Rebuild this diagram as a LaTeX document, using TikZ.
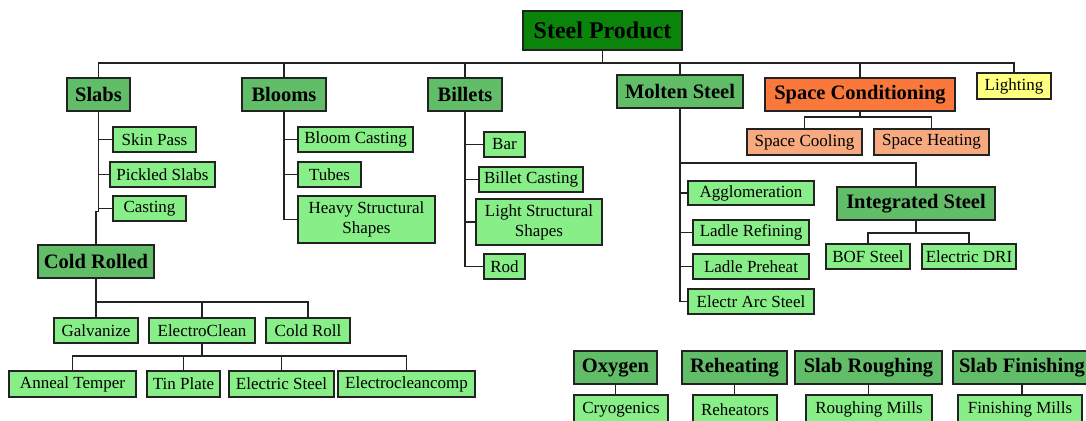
\documentclass[tikz,border=0pt]{standalone}
\usepackage{fontspec}
\setmainfont{Liberation Serif}
\definecolor{dkgreen}{RGB}{10,132,10}
\definecolor{mdgreen}{RGB}{98,189,105}
\definecolor{ltgreen}{RGB}{136,238,136}
\definecolor{orng}{RGB}{250,120,60}
\definecolor{salmon}{RGB}{247,170,128}
\definecolor{ylw}{RGB}{255,255,128}
\definecolor{ink}{RGB}{35,35,35}
\tikzset{
  box/.style={draw=ink, line width=1.4pt, inner sep=0pt, anchor=center, text=black},
  headbox/.style={box, fill=mdgreen, font=\fontsize{20.5}{22}\selectfont\bfseries},
  subbox/.style={box, fill=ltgreen, font=\fontsize{17}{20}\selectfont, align=center},
  wire/.style={draw=ink, line width=1.4pt},
}
\begin{document}
\begin{tikzpicture}[x=1pt,y=-1pt]
\useasboundingbox (0,0) rectangle (1086,420);
\clip (0,0) rectangle (1086,420);
\fill[white] (0,0) rectangle (1086,420);
% top level
\node[box, fill=dkgreen, font=\fontsize{24}{26}\selectfont\bfseries, minimum width=159pt, minimum height=39pt] (sp) at (602.5,30.5) {Steel Product};
\node[headbox, minimum width=63pt, minimum height=33pt] (slabs) at (98.5,94.5) {Slabs};
\node[headbox, minimum width=84pt, minimum height=33pt] (blooms) at (284,94.5) {Blooms};
\node[headbox, minimum width=74pt, minimum height=33pt] (billets) at (465,94.5) {Billets};
\node[headbox, minimum width=126pt, minimum height=33pt] (molten) at (680,91.5) {Molten Steel};
\node[box, fill=orng, font=\fontsize{20.5}{22}\selectfont\bfseries, minimum width=190pt, minimum height=33pt] (space) at (860,94.5) {Space Conditioning};
\node[box, fill=ylw, font=\fontsize{17}{20}\selectfont, minimum width=74pt, minimum height=26pt] (light) at (1014,86) {Lighting};
\coordinate (bus) at (0,63);
\draw[wire] (slabs.north) |- (light.north |- bus) -- (light.north);
\draw[wire] (sp.south) -- (sp.south |- bus);
\draw[wire] (blooms.north) -- (blooms.north |- bus);
\draw[wire] (billets.north) -- (billets.north |- bus);
\draw[wire] (molten.north) -- (molten.north |- bus);
\draw[wire] (space.north) -- (space.north |- bus);
% slabs children
\node[subbox, minimum width=83pt, minimum height=25pt] (skin) at (154.5,139.5) {Skin Pass};
\node[subbox, minimum width=105pt, minimum height=25pt] (pickled) at (162.5,174.5) {Pickled Slabs};
\node[subbox, minimum width=73pt, minimum height=25pt] (casting) at (149.5,208.5) {Casting};
\draw[wire] (slabs.south) |- (casting.west);
\draw[wire] (slabs.south |- skin.west) -- (skin.west);
\draw[wire] (slabs.south |- pickled.west) -- (pickled.west);
\node[headbox, minimum width=116pt, minimum height=33pt] (cold) at (96,261.5) {Cold Rolled};
\draw[wire] (slabs.south |- casting.west) -- ++(0,3) -| (cold.north);
% cold rolled children
\node[subbox, minimum width=84pt, minimum height=25pt] (galv) at (96,330.5) {Galvanize};
\node[subbox, minimum width=106pt, minimum height=25pt] (eclean) at (202,330.5) {ElectroClean};
\node[subbox, minimum width=84pt, minimum height=25pt] (croll) at (308,330.5) {Cold Roll};
\coordinate (crbus) at (0,302);
\draw[wire] (cold.south) -- (cold.south |- crbus);
\draw[wire] (galv.north) |- (croll.north |- crbus) -- (croll.north);
\draw[wire] (eclean.north) -- (eclean.north |- crbus);
\node[subbox, minimum width=127pt, minimum height=26pt] (anneal) at (72.5,384) {Anneal Temper};
\node[subbox, minimum width=73pt, minimum height=26pt] (tin) at (183.5,384) {Tin Plate};
\node[subbox, minimum width=105pt, minimum height=26pt] (esteel) at (281.5,384) {Electric Steel};
\node[subbox, minimum width=137pt, minimum height=26pt] (ecomp) at (406.5,384) {Electrocleancomp};
\coordinate (ecbus) at (0,356);
\draw[wire] (eclean.south) -- (eclean.south |- ecbus);
\draw[wire] (anneal.north) |- (ecomp.north |- ecbus) -- (ecomp.north);
\draw[wire] (tin.north) -- (tin.north |- ecbus);
\draw[wire] (esteel.north) -- (esteel.north |- ecbus);
% blooms children
\node[subbox, minimum width=115pt, minimum height=25pt] (bcast) at (355.5,139.5) {Bloom Casting};
\node[subbox, minimum width=63pt, minimum height=25pt] (tubes) at (329.5,174.5) {Tubes};
\node[subbox, minimum width=137pt, minimum height=47pt] (heavy) at (366.5,219.5) {Heavy Structural\\Shapes};
\draw[wire] (blooms.south) |- (heavy.west);
\draw[wire] (blooms.south |- bcast.west) -- (bcast.west);
\draw[wire] (blooms.south |- tubes.west) -- (tubes.west);
% billets children
\node[subbox, minimum width=41pt, minimum height=25pt] (bar) at (504.5,144.5) {Bar};
\node[subbox, minimum width=104pt, minimum height=25pt] (bilcast) at (531,179.5) {Billet Casting};
\node[subbox, minimum width=126pt, minimum height=46pt] (lights) at (539,222) {Light Structural\\Shapes};
\node[subbox, minimum width=41pt, minimum height=25pt] (rod) at (504.5,266.5) {Rod};
\draw[wire] (billets.south) |- (rod.west);
\draw[wire] (billets.south |- bar.west) -- (bar.west);
\draw[wire] (billets.south |- bilcast.west) -- (bilcast.west);
\draw[wire] (billets.south |- lights.west) -- (lights.west);
% space conditioning children
\node[box, fill=salmon, font=\fontsize{17}{20}\selectfont, minimum width=115pt, minimum height=26pt] (scool) at (804.5,142) {Space Cooling};
\node[box, fill=salmon, font=\fontsize{17}{20}\selectfont, minimum width=115pt, minimum height=26pt] (sheat) at (931.5,142) {Space Heating};
\coordinate (scbus) at (0,117);
\draw[wire] (space.south) -- (space.south |- scbus);
\draw[wire] (scool.north) |- (sheat.north |- scbus) -- (sheat.north);
% molten steel children
\node[subbox, minimum width=126pt, minimum height=24pt] (agglo) at (751,193) {Agglomeration};
\node[subbox, minimum width=116pt, minimum height=25pt] (lref) at (751,232.5) {Ladle Refining};
\node[subbox, minimum width=116pt, minimum height=25pt] (lpre) at (751,266.5) {Ladle Preheat};
\node[subbox, minimum width=126pt, minimum height=25pt] (earc) at (751,301.5) {Electr Arc Steel};
\draw[wire] (molten.south) |- (earc.west);
\draw[wire] (molten.south |- agglo.west) -- (agglo.west);
\draw[wire] (molten.south |- lref.west) -- (lref.west);
\draw[wire] (molten.south |- lpre.west) -- (lpre.west);
\node[headbox, minimum width=158pt, minimum height=33pt] (integ) at (916,203.5) {Integrated Steel};
\draw[wire] (molten.south |- 0,163) -| (integ.north);
\node[subbox, minimum width=84pt, minimum height=25pt] (bof) at (868,256.5) {BOF Steel};
\node[subbox, minimum width=94pt, minimum height=25pt] (edri) at (969,256.5) {Electric DRI};
\coordinate (isbus) at (0,233);
\draw[wire] (integ.south) -- (integ.south |- isbus);
\draw[wire] (bof.north) |- (edri.north |- isbus) -- (edri.north);
% bottom row
\node[headbox, minimum width=83pt, minimum height=33pt] (oxy) at (615.5,367.5) {Oxygen};
\node[subbox, minimum width=94pt, minimum height=29pt] (cryo) at (621,409.5) {Cryogenics};
\draw[wire] (oxy.south) -- (oxy.south |- cryo.north);
\node[headbox, minimum width=105pt, minimum height=33pt] (reheat) at (734.5,367.5) {Reheating};
\node[subbox, minimum width=84pt, minimum height=29pt] (reheator) at (735,409.5) {Reheators};
\draw[wire] (reheat.south) -- (reheat.south |- reheator.north);
\node[headbox, minimum width=147pt, minimum height=33pt] (srough) at (868.5,367.5) {Slab Roughing};
\node[subbox, minimum width=126pt, minimum height=29pt] (rmills) at (869,409.5) {Roughing Mills};
\draw[wire] (srough.south) -- (srough.south |- rmills.north);
\node[headbox, minimum width=138pt, minimum height=33pt] (sfin) at (1022,367.5) {Slab Finishing};
\node[subbox, minimum width=124pt, minimum height=29pt] (fmills) at (1020,409.5) {Finishing Mills};
\draw[wire] (sfin.south) -- (sfin.south |- fmills.north);
\end{tikzpicture}
\end{document}
